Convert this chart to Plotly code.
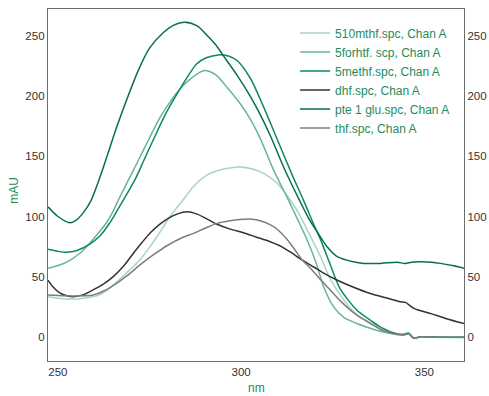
import plotly.graph_objects as go

# ---- data (wavelength nm, absorbance mAU) ----
names = ["510mthf.spc, Chan A", "5forhtf. scp, Chan A", "5methf.spc, Chan A",
         "dhf.spc, Chan A", "pte 1 glu.spc, Chan A", "thf.spc, Chan A"]

nm_510mthf = [247.3, 250, 253.5, 257, 261, 264, 268, 272.4, 277, 280.6, 284.2, 287, 291, 296, 300,
              305, 309.8, 313.4, 316, 318, 321.6, 324.3, 328, 331.6, 335.2, 338, 342, 344.3, 345.7,
              347.1, 349, 355, 360.8]
mau_510mthf = [33.3, 32, 31.3, 32, 34.5, 40, 51, 64, 83, 100, 114, 125, 135, 140, 141.2,
               137.5, 127.6, 113.7, 101, 89, 67, 48, 30.5, 18, 12, 7, 2.5, 1.5, 3,
               -1.3, -0.3, -0.6, -0.8]

nm_5forhtf = [247.3, 250.5, 253.5, 256, 258.7, 261, 263.3, 265, 266.5, 269.2, 272, 274.7, 278, 281,
              283.3, 286, 289.7, 293, 296, 299.7, 302.5, 305.2, 308.8, 312.9, 315.5, 318, 320.5,
              322.5, 325.2, 328, 331.6, 335.2, 340, 344.3, 345.7, 347.1, 349, 355, 360.8]
mau_5forhtf = [57, 59.6, 64, 69.4, 77.7, 86, 95, 104, 113.7, 130, 147, 163.6, 183, 197,
               206, 214, 221.3, 218, 208, 194, 181, 165, 139, 113.6, 97, 80.4, 61,
               41.6, 25, 16, 11, 7, 3, 1.5, 2.5, -1.3, 0, -0.5, -0.5]

nm_5methf = [247.3, 250, 252.4, 255, 258.7, 261.5, 264, 266, 268.3, 271, 273.5, 276, 279.5, 283.3,
             287.9, 290.5, 293.8, 296.5, 298.8, 302.5, 306, 310, 314, 317, 320, 321.5, 324.3, 327,
             331.6, 335.2, 338, 342.5, 344.3, 345.7, 347.1, 349, 355, 360.8]
mau_5methf = [72.7, 71, 70.2, 71.5, 77, 84, 94, 104, 116, 130.4, 147, 163.6, 186, 206,
              227, 232, 234.4, 233.5, 230, 215, 192, 163, 134, 113.6, 92, 82, 60, 40,
              22, 13.9, 8, 2.5, 2, 3, -1, 0, -0.5, -0.5]

nm_dhf = [247.3, 248.5, 250.5, 252.5, 254.2, 257, 259.6, 262.5, 265.1, 268, 270.6, 273, 275.1, 278,
          280.1, 282.5, 285.2, 288, 291.5, 293.4, 297, 300.6, 304, 307.9, 311, 313.4, 316.6, 319.8,
          323, 326.1, 330, 335.2, 340, 343.4, 344.8, 347.1, 352, 356, 360.8]
mau_dhf = [47, 42, 36.5, 34, 33.3, 35, 38.9, 44, 50, 59, 69.4, 78.5, 86, 94,
           98.5, 102, 104, 102, 96.5, 93.5, 89.5, 86.5, 83, 79, 75, 70.5, 64, 58,
           52, 47.2, 42, 36, 32, 29.1, 28.6, 23.6, 19, 15, 11]

nm_pte = [247.3, 250, 253.3, 255, 256.9, 259, 261.5, 263.5, 266, 269, 272, 275, 278.8, 281.5,
          284.7, 288, 290.6, 293, 296, 299, 302.5, 305, 308, 311.6, 315.9, 318.5, 321, 323.4,
          326, 329, 333.4, 338, 342.5, 344.8, 346.5, 348.9, 352, 354.4, 358, 360.8]
mau_pte = [108, 100, 94.8, 97, 103, 113, 133, 151, 174, 199, 222, 240, 253, 259,
           261.6, 258.5, 251, 243, 230, 217, 200, 186, 167, 141, 113.6, 98, 86, 75,
           67, 63.5, 61, 61, 61.9, 61, 62, 62.4, 62, 61, 59, 57]

nm_thf = [247.3, 250, 254.2, 257, 259.6, 262.5, 266, 269, 272.4, 276, 280.1, 284, 287, 290, 293.4,
          297, 300.6, 303, 305.2, 308, 310, 312.5, 314.5, 316.6, 318.9, 321.5, 324.3, 327, 329.8,
          332.5, 335.2, 338, 340, 342.5, 344.3, 345.7, 347.1, 349, 355, 360.8]
mau_thf = [34.7, 34.3, 33.9, 34, 34.7, 38, 44.4, 51, 59.7, 68, 76.3, 82.5, 86, 90, 94.3,
           96.5, 97.7, 97.8, 96.5, 93, 89, 81, 73, 64, 57, 48, 38.8, 30, 22.1,
           16, 11.1, 6, 4, 2, 1.5, 2.5, -1.3, 0, -0.5, -0.5]

x_ticks = [250, 300, 350]
y_ticks = [0, 50, 100, 150, 200, 250]

colors = ["#a8d5c1", "#68b497", "#0c8a5d", "#333333", "#07704a", "#7d7d7d"]
series = [(nm_510mthf, mau_510mthf), (nm_5forhtf, mau_5forhtf), (nm_5methf, mau_5methf),
          (nm_dhf, mau_dhf), (nm_pte, mau_pte), (nm_thf, mau_thf)]

GREEN = "#1e8a5c"
TICKFONT = dict(family="Liberation Sans, Arial, sans-serif", size=11.5, color="#333333")
TITLEFONT = dict(family="Liberation Sans, Arial, sans-serif", size=12, color=GREEN)

fig = go.Figure()
for i, (name, (xs, ys), c) in enumerate(zip(names, series, colors)):
    fig.add_trace(go.Scatter(x=xs, y=ys, mode="lines", name=name,
                             yaxis="y2" if i == len(names) - 1 else "y",
                             line=dict(color=c, width=1.5, shape="spline", smoothing=0.8)))

yr = [-20.2, 272.6]
fig.update_layout(
    width=489, height=396,
    margin=dict(l=48, r=25, t=9, b=35, autoexpand=False),
    paper_bgcolor="white", plot_bgcolor="white",
    showlegend=True,
    legend=dict(x=0.594, y=0.973, xanchor="left", yanchor="top",
                bgcolor="rgba(0,0,0,0)", borderwidth=0,
                font=dict(family="Liberation Sans, Arial, sans-serif", size=12, color=GREEN),
                tracegroupgap=0),
    xaxis=dict(range=[247.3, 360.8], tickvals=x_ticks, showgrid=False, zeroline=False,
               showline=True, linecolor="#6e6e6e", linewidth=1.3, mirror=True,
               ticks="", tickfont=TICKFONT, automargin=False),
    yaxis=dict(range=yr, tickvals=y_ticks, showgrid=False, zeroline=False,
               showline=True, linecolor="#6e6e6e", linewidth=1.3,
               ticks="", tickfont=TICKFONT, automargin=False),
    yaxis2=dict(range=yr, tickvals=y_ticks, overlaying="y", side="right", showgrid=False,
                zeroline=False, showline=True, linecolor="#6e6e6e", linewidth=1.3,
                ticks="", tickfont=TICKFONT, automargin=False),
    annotations=[
        dict(text="mAU", xref="paper", yref="paper", x=-0.082, y=0.486, textangle=-90,
             xanchor="center", yanchor="middle", showarrow=False, font=TITLEFONT),
        dict(text="nm", xref="paper", yref="paper", x=0.5, y=-0.078,
             xanchor="center", yanchor="middle", showarrow=False, font=TITLEFONT),
    ],
)

# remove the browser's default 8px page margin so the 489x396 figure fills the window
fig.write_html("out.html",
               config={"displayModeBar": False},
               post_script="document.body.style.margin='0';"
                           "document.documentElement.style.overflow='hidden';")
